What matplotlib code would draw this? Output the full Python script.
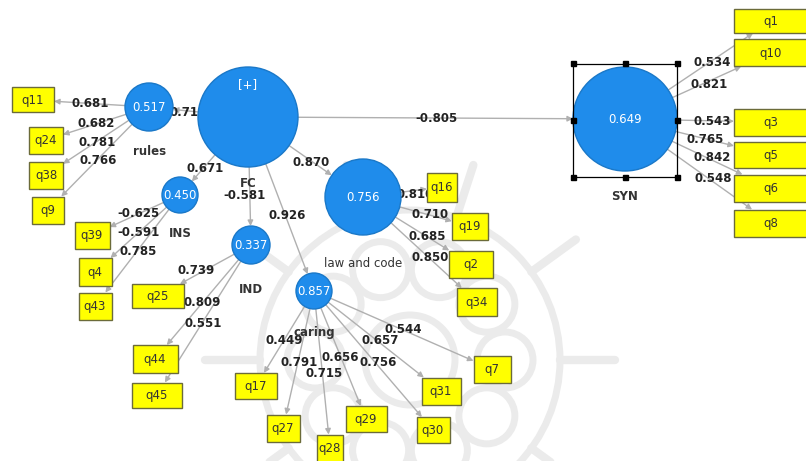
import numpy as np
import matplotlib.pyplot as plt
from matplotlib.patches import Circle, Rectangle

# constructs and the value shown inside each circle (R square)
constructs = ["FC", "rules", "INS", "IND", "caring", "law and code", "SYN"]
inner_text = ["[+]", "0.517", "0.450", "0.337", "0.857", "0.756", "0.649"]

# structural paths
path_from = ["FC", "FC", "FC", "FC", "FC", "FC"]
path_to = ["rules", "INS", "IND", "caring", "law and code", "SYN"]
path_coef = ["0.719", "0.671", "-0.581", "0.926", "0.870", "-0.805"]

# outer loadings
rules_items = ["q11", "q24", "q38", "q9"]
rules_load = ["0.681", "0.682", "0.781", "0.766"]
ins_items = ["q39", "q4", "q43"]
ins_load = ["-0.625", "-0.591", "0.785"]
ind_items = ["q25", "q44", "q45"]
ind_load = ["0.739", "0.809", "0.551"]
law_items = ["q16", "q19", "q2", "q34"]
law_load = ["0.810", "0.710", "0.685", "0.850"]
caring_items = ["q17", "q27", "q28", "q29", "q30", "q31", "q7"]
caring_load = ["0.449", "0.791", "0.715", "0.656", "0.756", "0.657", "0.544"]
syn_items = ["q1", "q10", "q3", "q5", "q6", "q8"]
syn_load = ["0.534", "0.821", "0.543", "0.765", "0.842", "0.548"]

outer = {
    "rules": (rules_items, rules_load),
    "INS": (ins_items, ins_load),
    "IND": (ind_items, ind_load),
    "law and code": (law_items, law_load),
    "caring": (caring_items, caring_load),
    "SYN": (syn_items, syn_load),
}

# layout (pixel coords): centre x, centre y, radius
node_pos = {
    "FC": (248, 117, 50), "rules": (149, 107, 24), "INS": (180, 195, 18),
    "IND": (251, 245, 19), "caring": (314, 291, 18),
    "law and code": (363, 197, 38), "SYN": (625, 119, 52),
}
name_pos = {
    "FC": (248, 183), "rules": (150, 151), "INS": (180, 233), "IND": (251, 289),
    "caring": (314, 332), "law and code": (363, 263), "SYN": (625, 196),
}
# boxes: centre x, centre y, width, height
box_pos = {
    "q11": (33, 100, 42, 25), "q24": (46, 140, 34, 27), "q38": (46, 175, 34, 27),
    "q9": (48, 210, 32, 27), "q39": (92, 235, 35, 27), "q4": (95, 272, 33, 28),
    "q43": (95, 306, 33, 27), "q25": (158, 296, 52, 24), "q44": (155, 359, 45, 28),
    "q45": (157, 395, 50, 25), "q17": (256, 386, 42, 26), "q27": (283, 428, 33, 27),
    "q28": (330, 448, 26, 27), "q29": (366, 419, 41, 26), "q30": (433, 430, 33, 26),
    "q31": (441, 391, 39, 27), "q7": (492, 369, 37, 27), "q16": (442, 187, 30, 29),
    "q19": (470, 226, 36, 27), "q2": (471, 264, 44, 27), "q34": (477, 302, 40, 28),
    "q1": (771, 21, 74, 24), "q10": (771, 53, 74, 27), "q3": (771, 122, 74, 27),
    "q5": (771, 155, 74, 26), "q6": (771, 188, 74, 27), "q8": (771, 223, 74, 27),
}
load_pos = {
    "q11": (90, 103), "q24": (96, 123), "q38": (97, 142), "q9": (98, 160),
    "q39": (138, 213), "q4": (138, 232), "q43": (138, 251),
    "q25": (196, 270), "q44": (202, 302), "q45": (203, 323),
    "q16": (415, 194), "q19": (430, 214), "q2": (427, 236), "q34": (430, 257),
    "q17": (284, 340), "q27": (299, 362), "q28": (324, 373), "q29": (340, 357),
    "q30": (378, 362), "q31": (380, 340), "q7": (403, 329),
    "q1": (712, 63), "q10": (709, 85), "q3": (712, 121), "q5": (705, 139),
    "q6": (712, 157), "q8": (713, 178),
}
coef_pos = {
    "rules": (188, 112), "INS": (205, 168), "IND": (245, 195),
    "caring": (287, 215), "law and code": (311, 162), "SYN": (437, 118),
}

blue = "#1f8ceb"
arrow_col = "#b0b0b0"


def circle_edge(cx, cy, r, tx, ty):
    d = np.hypot(tx - cx, ty - cy)
    return cx + (tx - cx) * r / d, cy + (ty - cy) * r / d


def box_edge(bx, by, w, h, sx, sy):
    dx, dy = sx - bx, sy - by
    s = min((w / 2) / abs(dx) if dx else 1e9, (h / 2) / abs(dy) if dy else 1e9)
    return bx + dx * s, by + dy * s


def arrow(p0, p1):
    ax.annotate("", xy=p1, xytext=p0, zorder=2,
                arrowprops=dict(arrowstyle="-|>", color=arrow_col, lw=1.0,
                                mutation_scale=8, shrinkA=0, shrinkB=0))


fig = plt.figure(figsize=(8.06, 4.61), dpi=100)
ax = fig.add_axes([0, 0, 1, 1])
ax.set_xlim(0, 806)
ax.set_ylim(461, 0)
ax.axis("off")

# faint watermark in the background
wm = "#ebebeb"
ax.add_patch(Circle((410, 360), 45, fill=False, ec=wm, lw=5, zorder=0))
ax.add_patch(Circle((410, 360), 150, fill=False, ec=wm, lw=5, zorder=0))
for a in np.linspace(0, 2 * np.pi, 10, endpoint=False):
    ax.add_patch(Circle((410 + 95 * np.cos(a), 360 + 95 * np.sin(a)), 28,
                        fill=False, ec=wm, lw=5, zorder=0))
    ax.plot([410 + 150 * np.cos(a), 410 + 205 * np.cos(a)],
            [360 + 150 * np.sin(a), 360 + 205 * np.sin(a)], color=wm, lw=6,
            solid_capstyle="round", zorder=0)

# structural paths
for f, t, c in zip(path_from, path_to, path_coef):
    fx, fy, fr = node_pos[f]
    tx, ty, tr = node_pos[t]
    arrow(circle_edge(fx, fy, fr, tx, ty), circle_edge(tx, ty, tr, fx, fy))
    ax.text(*coef_pos[t], c, ha="center", va="center", fontsize=8.5,
            fontweight="bold", color="#222222", zorder=3)

# measurement model
for con, (items, loads) in outer.items():
    cx, cy, r = node_pos[con]
    for it, ld in zip(items, loads):
        bx, by, w, h = box_pos[it]
        arrow(circle_edge(cx, cy, r, bx, by), box_edge(bx, by, w, h, cx, cy))
        ax.text(*load_pos[it], ld, ha="center", va="center", fontsize=8.5,
                fontweight="bold", color="#222222", zorder=3)

for it, (bx, by, w, h) in box_pos.items():
    ax.add_patch(Rectangle((bx - w / 2, by - h / 2), w, h, fc="#ffff00",
                           ec="#6b6b3a", lw=1, zorder=5))
    ax.text(bx, by, it, ha="center", va="center", fontsize=8.5,
            color="#333333", zorder=6)

for con, txt in zip(constructs, inner_text):
    cx, cy, r = node_pos[con]
    ax.add_patch(Circle((cx, cy), r, fc=blue, ec="#1a78c8", lw=1, zorder=4))
    ty = cy - 32 if con == "FC" else cy
    ax.text(cx, ty, txt, ha="center", va="center", fontsize=8.5,
            color="white", zorder=6)
    nx_, ny_ = name_pos[con]
    ax.text(nx_, ny_, con, ha="center", va="center", fontsize=8.5,
            fontweight="bold" if con != "law and code" else "normal",
            color="#333333", zorder=3)

# selection frame around SYN
sx0, sy0, sx1, sy1 = 573, 64, 677, 177
ax.add_patch(Rectangle((sx0, sy0), sx1 - sx0, sy1 - sy0, fill=False,
                       ec="black", lw=0.9, zorder=7))
for hx in (sx0, (sx0 + sx1) / 2, sx1):
    for hy in (sy0, (sy0 + sy1) / 2, sy1):
        if hx == (sx0 + sx1) / 2 and hy == (sy0 + sy1) / 2:
            continue
        ax.add_patch(Rectangle((hx - 2.5, hy - 2.5), 5, 5, fc="black",
                               ec="black", zorder=8))

fig.savefig("out.png", dpi=100)
